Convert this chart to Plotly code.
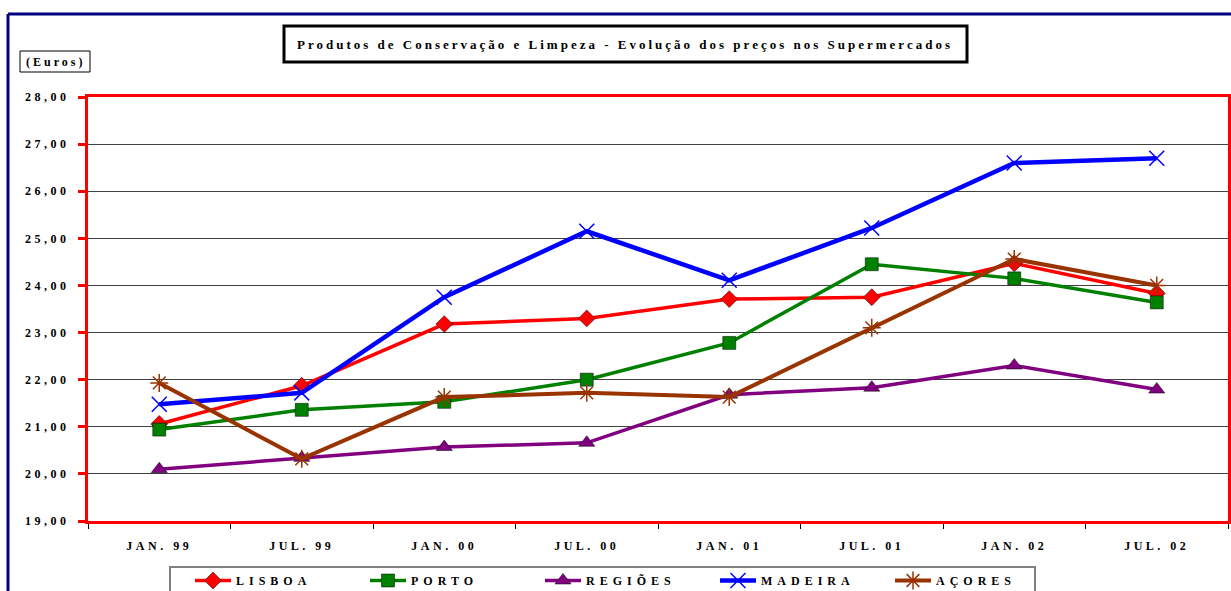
import plotly.graph_objects as go

categories = ["JAN. 99", "JUL. 99", "JAN. 00", "JUL. 00", "JAN. 01", "JUL. 01", "JAN. 02", "JUL. 02"]
lisboa = [21.06, 21.87, 23.18, 23.30, 23.71, 23.75, 24.47, 23.83]
porto = [20.94, 21.36, 21.53, 22.00, 22.78, 24.45, 24.15, 23.64]
regioes = [20.10, 20.34, 20.57, 20.66, 21.68, 21.83, 22.30, 21.79]
madeira = [21.48, 21.72, 23.75, 25.15, 24.11, 25.22, 26.60, 26.70]
acores = [21.93, 20.32, 21.63, 21.72, 21.63, 23.10, 24.56, 24.00]
y_ticks = [19, 20, 21, 22, 23, 24, 25, 26, 27, 28]
title_text = "Produtos de Conservação e Limpeza - Evolução dos preços nos Supermercados"
unit_text = "(Euros)"

FONT = "Liberation Serif"


def spaced(t, ls=3):
    return f'<span style="letter-spacing:{ls}px">{t}</span>'


series = [
    ("LISBOA", lisboa, "#FF0000", "diamond", 13, 3.5),
    ("PORTO", porto, "#008000", "square", 13, 3.5),
    ("REGIÕES", regioes, "#800080", "triangle-up", 14, 3.5),
    ("MADEIRA", madeira, "#0000FF", "x-thin-open", 15, 4.5),
    ("AÇORES", acores, "#993300", "asterisk-open", 15, 4),
]

fig = go.Figure()
for name, vals, color, sym, size, lw in series:
    mline = dict(color=color, width=1.5) if "open" in sym else dict(color="#000000", width=0.5)
    fig.add_trace(go.Scatter(
        x=categories, y=vals, name=spaced(name, 5), mode="lines+markers",
        line=dict(color=color, width=lw),
        marker=dict(symbol=sym, size=size, color=color, line=mline),
    ))

W, H = 1231, 591
L, R, T, B = 88, 3, 97, 70
pw, ph = W - L - R, H - T - B


def px(x):
    return (x - L) / pw


def py(y):
    return (H - B - y) / ph


shapes = [
    # outer navy frame
    dict(type="line", xref="paper", yref="paper", x0=px(8), x1=px(8), y0=py(14), y1=py(620),
         line=dict(color="#000080", width=3)),
    dict(type="line", xref="paper", yref="paper", x0=px(8), x1=px(1260), y0=py(14), y1=py(14),
         line=dict(color="#000080", width=3)),
    # title box
    dict(type="rect", xref="paper", yref="paper", x0=px(284), x1=px(967), y0=py(62), y1=py(26),
         line=dict(color="#000000", width=3), fillcolor="white"),
    # euros box
    dict(type="rect", xref="paper", yref="paper", x0=px(20), x1=px(90), y0=py(72), y1=py(51),
         line=dict(color="#000000", width=1), fillcolor="white"),
    # legend box
    dict(type="rect", xref="paper", yref="paper", x0=px(170), x1=px(1035), y0=py(610), y1=py(567),
         line=dict(color="#808080", width=2), fillcolor="white", layer="below"),
]

annotations = [
    dict(text=spaced("<b>" + title_text + "</b>", 3), xref="paper", yref="paper", x=px(625), y=py(44),
         showarrow=False, font=dict(family=FONT, size=13, color="black"), xanchor="center", yanchor="middle"),
    dict(text=spaced("<b>" + unit_text + "</b>", 3), xref="paper", yref="paper", x=px(55), y=py(61.5),
         showarrow=False, font=dict(family=FONT, size=12, color="black"), xanchor="center", yanchor="middle"),
]

fig.update_layout(
    width=W, height=H,
    margin=dict(l=L, r=R, t=T, b=B, autoexpand=False),
    paper_bgcolor="white", plot_bgcolor="white",
    font=dict(family=FONT, size=11, color="black"),
    showlegend=True,
    legend=dict(
        orientation="h", x=px(190), y=py(566), xanchor="left", yanchor="top",
        borderwidth=0, bgcolor="rgba(0,0,0,0)",
        font=dict(family=FONT, size=12, color="black", weight="bold"),
        entrywidth=124, itemwidth=36, tracegroupgap=0,
    ),
    shapes=shapes,
    annotations=annotations,
    xaxis=dict(
        type="category", range=[-0.5, 7.5], automargin=False,
        tickmode="array", tickvals=categories, ticktext=[spaced("<b>" + c + "</b>", 3.5) for c in categories],
        tickson="boundaries", ticks="outside", ticklen=5, tickcolor="black", tickwidth=1,
        ticklabelstandoff=12,
        showline=True, linecolor="#FF0000", linewidth=3, mirror=True,
        showgrid=False, tickfont=dict(family=FONT, size=12, color="black"),
    ),
    yaxis=dict(
        range=[19, 28], tickmode="array", tickvals=y_ticks, automargin=False,
        ticktext=[spaced("<b>" + f"{v:.2f}".replace(".", ",") + "</b>", 3.5) for v in y_ticks],
        ticks="outside", ticklen=7, tickcolor="#FF0000", tickwidth=3,
        ticklabelstandoff=6,
        showline=True, linecolor="#FF0000", linewidth=3, mirror=True,
        showgrid=True, gridcolor="#404040", gridwidth=1,
        tickfont=dict(family=FONT, size=12, color="black"), zeroline=False,
    ),
)

fig.write_html("out.html", config={"displayModeBar": False},
               post_script="document.body.style.margin='0';document.body.style.overflow='hidden';")
